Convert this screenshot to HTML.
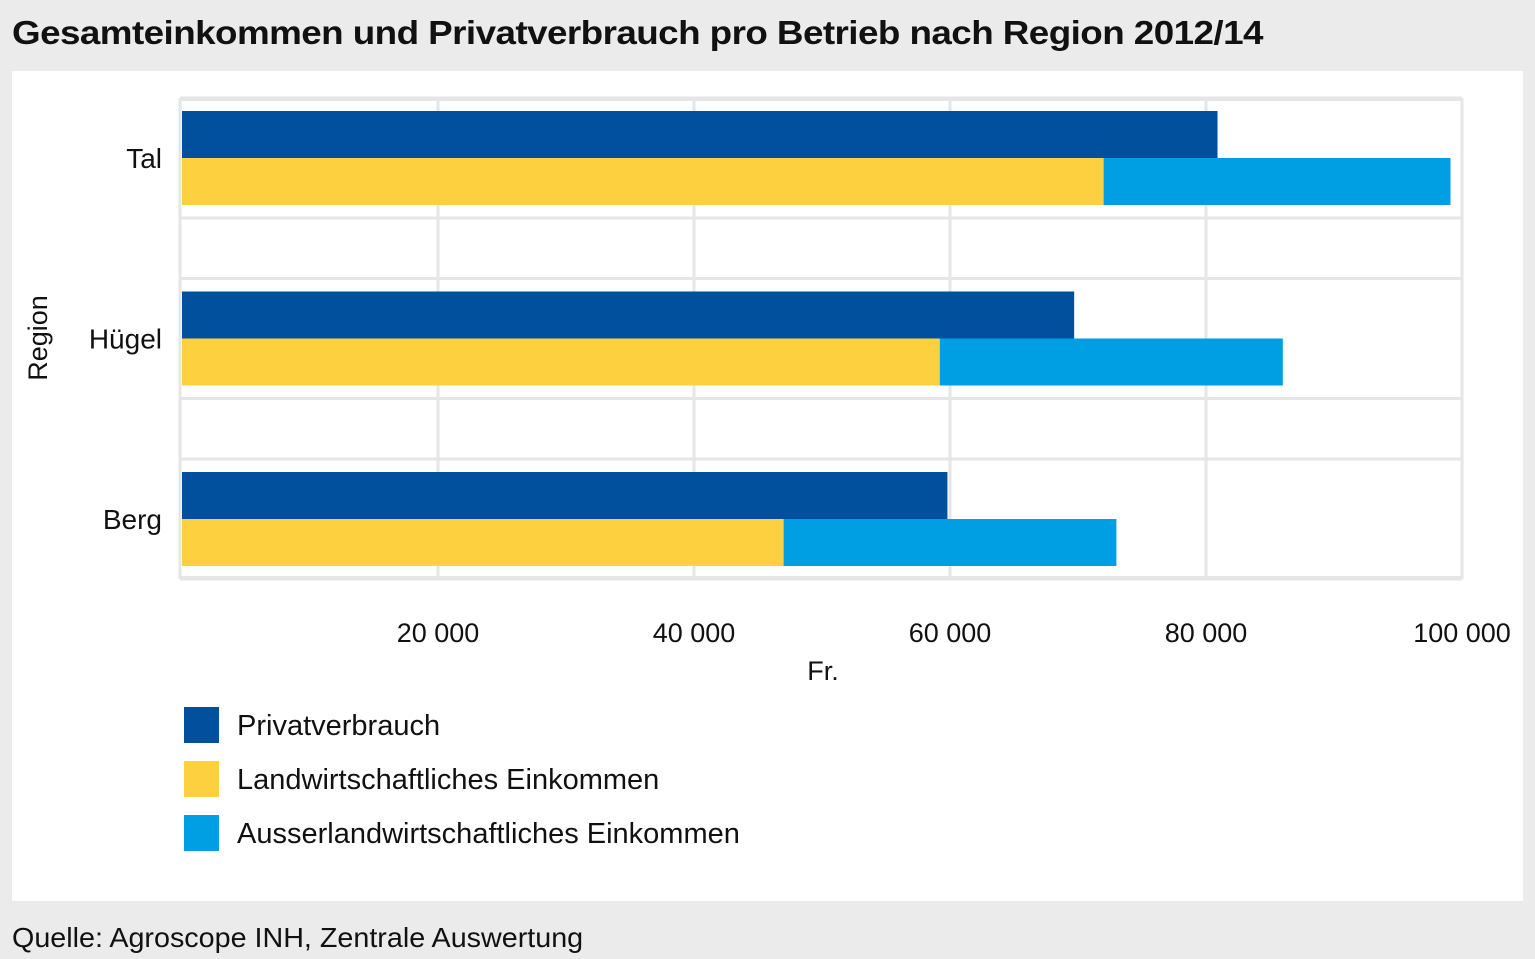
<!DOCTYPE html>
<html><head><meta charset="utf-8"><style>
body{margin:0;width:1535px;height:959px;background:#ebebeb;overflow:hidden;font-family:"Liberation Sans","DejaVu Sans",sans-serif;}
#title{position:absolute;left:12px;top:14px;font-size:33px;font-weight:bold;color:#111;letter-spacing:-0.5px;transform:scaleX(1.115);transform-origin:left;white-space:nowrap}
#panel{position:absolute;left:12px;top:71px;width:1511px;height:830px;background:#fff}
#src{position:absolute;left:12px;top:922px;font-size:28px;color:#111;transform:scaleX(1.025);transform-origin:left;white-space:nowrap}
</style></head><body>
<div id="title">Gesamteinkommen und Privatverbrauch pro Betrieb nach Region 2012/14</div>
<div id="panel"></div>
<svg id="chart" width="1535" height="959" style="position:absolute;left:0;top:0"></svg>
<div id="src">Quelle: Agroscope INH, Zentrale Auswertung</div>
<script>
const categories=["Tal","Hügel","Berg"];
const privat=[80900,69700,59800];
const landw=[72000,59200,47000];
const ausser=[27100,26800,26000];
const xTicks=[20000,40000,60000,80000,100000];
const xTickLabels=["20 000","40 000","60 000","80 000","100 000"];
const seriesNames=["Privatverbrauch","Landwirtschaftliches Einkommen","Ausserlandwirtschaftliches Einkommen"];
const colors=["#00509e","#fdd040","#009fe3"];
const NS="http://www.w3.org/2000/svg";
const svg=document.getElementById('chart');
const x0=182,kx=12.8/1000;
const X=v=>x0+v*kx;
const Y=i=>158+i*180.5;
function mk(t,a,txt){const e=document.createElementNS(NS,t);for(const k in a)e.setAttribute(k,a[k]);if(txt!=null)e.textContent=txt;svg.appendChild(e);return e;}
const FF='"Liberation Sans","DejaVu Sans",sans-serif';
let f=mk('rect',{x:180,y:99.5,width:1282,height:478,fill:'none',stroke:'#e6e6e6','stroke-width':3});


xTicks.forEach((t,i)=>{
 const g=mk('line',{x1:X(t),x2:X(t),y1:99,y2:578,stroke:'#e6e6e6','stroke-width':3});
 
 
 const l=mk('text',{x:X(t),y:642,'text-anchor':'middle','font-size':27,fill:'#111','font-family':FF},xTickLabels[i]);
 
 
});
categories.forEach((c,i)=>{
 [-60,60].forEach(d=>{
  const g=mk('line',{x1:180,x2:1462,y1:Y(i)+d,y2:Y(i)+d,stroke:'#e6e6e6','stroke-width':3});
  
  
 });
 const b1=mk('rect',{x:X(0),y:Y(i)-47,width:X(privat[i])-X(0),height:47,fill:colors[0]});
 
 
 const b2=mk('rect',{x:X(0),y:Y(i),width:X(landw[i])-X(0),height:47,fill:colors[1]});
 
 
 const b3=mk('rect',{x:X(landw[i]),y:Y(i),width:X(landw[i]+ausser[i])-X(landw[i]),height:47,fill:colors[2]});
 
 
 const l=mk('text',{x:162,y:Y(i)+10,'text-anchor':'end','font-size':28,fill:'#111','font-family':FF},c);
 
 
});
let yt=mk('text',{x:0,y:0,'text-anchor':'middle','font-size':27,fill:'#111','font-family':FF,transform:'translate(47,338) rotate(-90)'},'Region');


let xt=mk('text',{x:823,y:680,'text-anchor':'middle','font-size':27,fill:'#111','font-family':FF},'Fr.');


seriesNames.forEach((n,i)=>{
 const y=707+i*54;
 const r=mk('rect',{x:184,y:y,width:35,height:36,fill:colors[i]});
 
 
 const t=mk('text',{x:237,y:y+28,'font-size':29,fill:'#111','font-family':FF},n);
 
 
});
</script>
</body></html>
